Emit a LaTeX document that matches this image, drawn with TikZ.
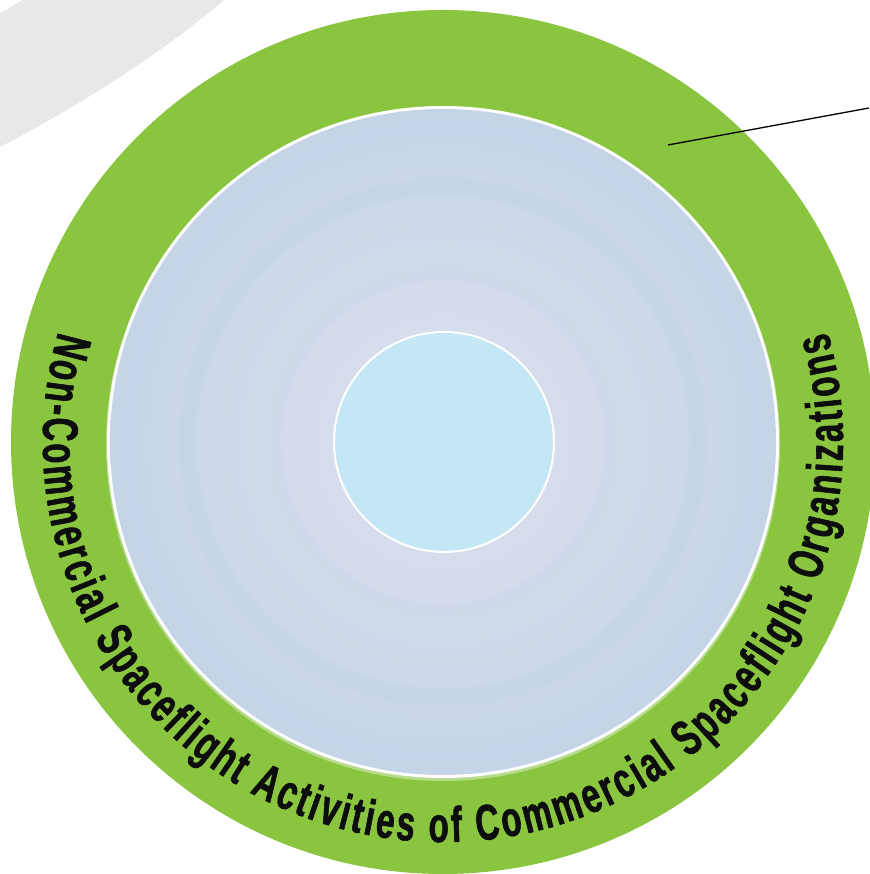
\documentclass[tikz,border=0pt]{standalone}
\usepackage{fontspec}
\usetikzlibrary{decorations.text}
\newfontfamily\bandfont[FakeStretch=0.66,FakeBold=1.2]{Liberation Sans}
\definecolor{bandgreen}{HTML}{8AC53F}
\definecolor{bandlight}{HTML}{B7DB8C}
\definecolor{diskblue}{HTML}{C6D4E8}
\definecolor{disklight}{HTML}{DFE2EF}
\definecolor{diskring}{HTML}{BDD3E8}
\definecolor{corecyan}{HTML}{C4E7F5}
\definecolor{swoosh}{HTML}{E7E8E7}
\tikzset{
  bandtext/.style={decorate, decoration={text along path, text align=fit to path,
     text={|\bandfont\bfseries\fontsize{50}{50}\selectfont\color{black!95}|Non-Commercial Spaceflight Activities of Commercial Spaceflight Organizations}}},
  leader/.style={draw=black, line width=1.3pt}
}
\begin{document}
\begin{tikzpicture}[x=1pt,y=1pt]
\useasboundingbox (0,0) rectangle (869,874);
% grey swoosh
\fill[swoosh] (0,727) .. controls (75,766) and (160,819) .. (224,874) -- (22,874)
   .. controls (15,869) and (7,865) .. (0,861) -- cycle;
\coordinate (C) at (443,432);
% green band
\fill[bandgreen] (C) circle[radius=432];
% light shadow, white rim, blue disk
\fill[bandlight] ([yshift=-2]C) circle[radius=337];
\fill[white] (C) circle[radius=336];
\shade[inner color=disklight, outer color=diskblue] (C) circle[radius=333];
\draw[diskring, line width=16pt, opacity=0.18] (C) circle[radius=170];
\draw[diskring, line width=18pt, opacity=0.25] (C) circle[radius=255];
\draw[diskring, line width=10pt, opacity=0.2] (C) circle[radius=315];
% core
\fill[corecyan, draw=white, line width=2pt] ([xshift=1]C) circle[radius=110];
% curved caption
\path[bandtext] ([shift={(164:400)}]C) arc[start angle=164, end angle=376, radius=400];
% leader line
\coordinate (la) at (668,729);
\coordinate (lb) at (869,766);
\draw[leader] (la) -- (lb);
\end{tikzpicture}
\end{document}
